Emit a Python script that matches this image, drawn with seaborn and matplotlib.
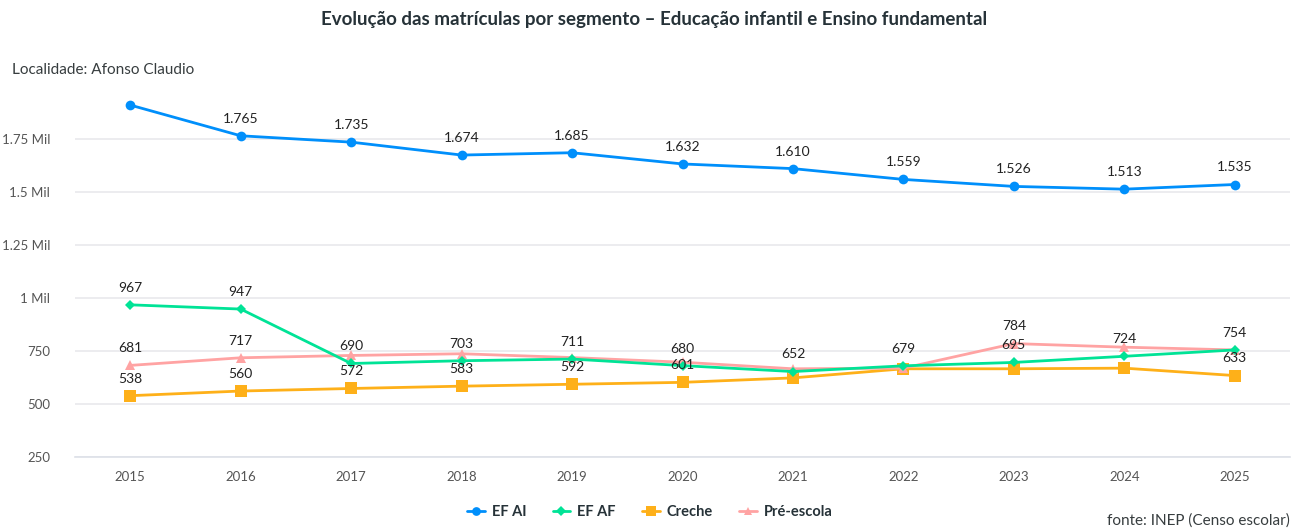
import matplotlib
matplotlib.use("Agg")
import matplotlib.pyplot as plt
import seaborn as sns
import pandas as pd
from matplotlib.lines import Line2D
from matplotlib.ticker import FixedLocator, FuncFormatter

anos = [2015, 2016, 2017, 2018, 2019, 2020, 2021, 2022, 2023, 2024, 2025]
ef_ai = [1910, 1765, 1735, 1674, 1685, 1632, 1610, 1559, 1526, 1513, 1535]
ef_af = [967, 947, 690, 703, 711, 680, 652, 679, 695, 724, 754]
creche = [538, 560, 572, 583, 592, 601, 622, 665, 665, 668, 633]
pre_escola = [681, 717, 728, 736, 718, 696, 665, 668, 784, 767, 754]

# which labels are visible in the reference (others hidden by overlap)
show_ai = [False, True, True, True, True, True, True, True, True, True, True]
show_af = [True] * 11
show_cr = [True, True, True, True, True, True, False, False, False, False, True]
show_pe = [True, True, False, False, False, False, False, False, True, False, False]

series = ["EF AI", "EF AF", "Creche", "Pré-escola"]
colors = {"EF AI": "#008FFB", "EF AF": "#00E396", "Creche": "#FEB019", "Pré-escola": "#FFA3A3"}
markers = {"EF AI": "o", "EF AF": "D", "Creche": "s", "Pré-escola": "^"}
msizes = {"EF AI": 7, "EF AF": 5.5, "Creche": 8.5, "Pré-escola": 7}
values = {"EF AI": ef_ai, "EF AF": ef_af, "Creche": creche, "Pré-escola": pre_escola}
shows = {"EF AI": show_ai, "EF AF": show_af, "Creche": show_cr, "Pré-escola": show_pe}

rows = []
for s in series:
    for i, a in enumerate(anos):
        rows.append({"serie": s, "idx": i, "valor": values[s][i]})
df = pd.DataFrame(rows)

sns.set_theme(style="white")
plt.rcParams["font.family"] = ["Lato", "DejaVu Sans"]

fig = plt.figure(figsize=(13.09, 5.30), dpi=100)
ax = fig.add_axes([75 / 1309, 1 - 456.7 / 530, (1290 - 75) / 1309, (456.7 - 86) / 530])

order_draw = ["Creche", "Pré-escola", "EF AF", "EF AI"]
for s in order_draw:
    d = df[df["serie"] == s]
    sns.lineplot(data=d, x="idx", y="valor", ax=ax, color=colors[s], marker=markers[s],
                 markersize=msizes[s], markeredgewidth=0, linewidth=2.0, legend=False,
                 zorder=3)

def fmt_num(v):
    return f"{v:,}".replace(",", ".")

for s in series:
    for i, v in enumerate(values[s]):
        if shows[s][i]:
            ax.annotate(fmt_num(v), (i, v), xytext=(0, 8), textcoords="offset points",
                        ha="center", va="bottom", fontsize=10, color="#222222",
                        zorder=5)

ax.set_xlim(-0.5, 10.5)
ax.set_ylim(250, 2000)
ax.yaxis.set_major_locator(FixedLocator([250, 500, 750, 1000, 1250, 1500, 1750]))

def yfmt(v, p):
    if v >= 1000:
        t = f"{v/1000:g}"
        return f"{t} Mil"
    return f"{int(v)}"

ax.yaxis.set_major_formatter(FuncFormatter(yfmt))
ax.set_xticks(range(len(anos)))
ax.set_xticklabels([str(a) for a in anos])
ax.tick_params(axis="both", labelsize=9.5, colors="#555555", length=0)
ax.tick_params(axis="y", pad=18)
ax.tick_params(axis="x", pad=10)
ax.grid(axis="y", color="#e9e9ec", linewidth=1.2)
ax.grid(axis="x", visible=False)
for sp in ["top", "right", "left"]:
    ax.spines[sp].set_visible(False)
ax.spines["bottom"].set_color("#dde0e8")
ax.spines["bottom"].set_linewidth(1.2)
ax.set_xlabel("")
ax.set_ylabel("")

fig.text(0.5, 1 - 20 / 530, "Evolução das matrículas por segmento – Educação infantil e Ensino fundamental",
         ha="center", va="center", fontsize=13.5, fontweight="bold", color="#263238")
fig.text(12 / 1309, 1 - 70 / 530, "Localidade: Afonso Claudio", ha="left", va="center",
         fontsize=11, color="#373d3f")
fig.text(1290 / 1309, 1 - 521 / 530, "fonte: INEP (Censo escolar)", ha="right", va="center",
         fontsize=11, color="#373d3f")

handles = [Line2D([0], [0], color=colors[s], marker=markers[s], markersize=msizes[s] * 0.9,
                  markeredgewidth=0, linewidth=2) for s in series]
leg = fig.legend(handles, series, loc="center", bbox_to_anchor=(650 / 1309, 1 - 512 / 530),
                 ncol=4, frameon=False, fontsize=10.5, handlelength=1.2, handletextpad=0.5,
                 columnspacing=1.8)
for t in leg.get_texts():
    t.set_color("#263238")
    t.set_fontweight("bold")

fig.savefig("out.png", dpi=100)
